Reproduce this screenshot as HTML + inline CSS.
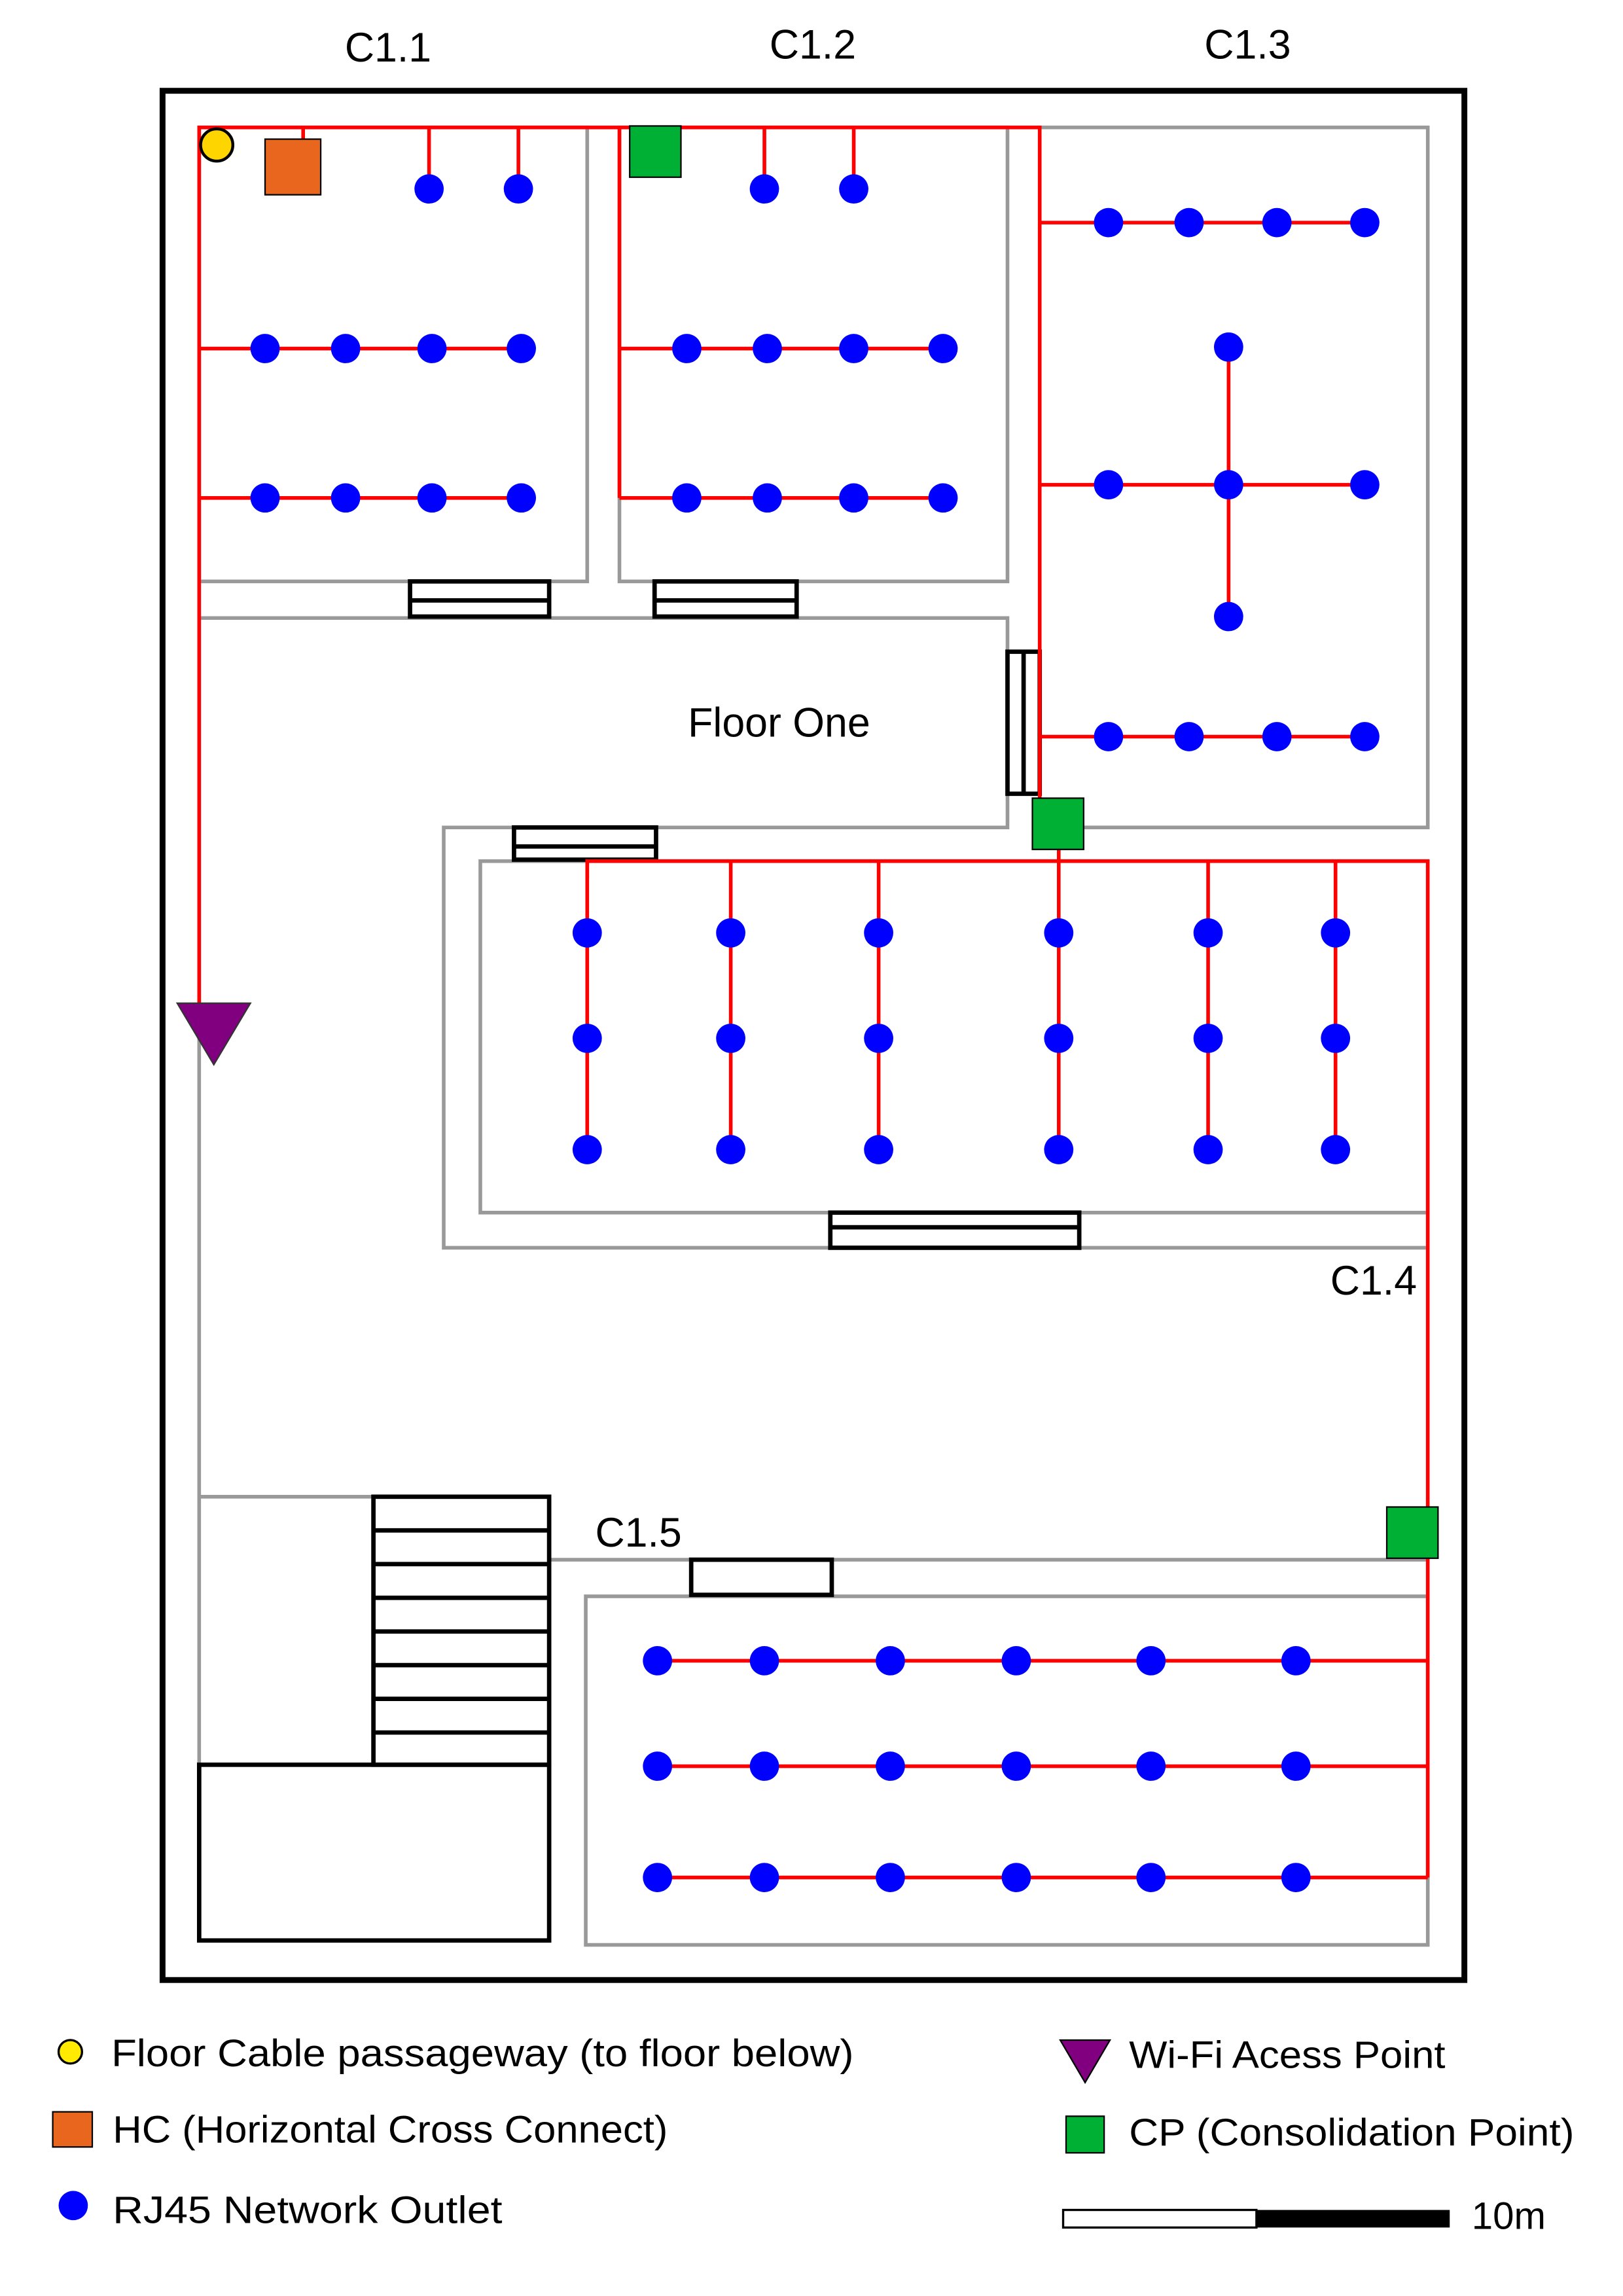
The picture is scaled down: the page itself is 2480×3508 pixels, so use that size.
<!DOCTYPE html>
<html><head><meta charset="utf-8"><style>
html,body{margin:0;padding:0;background:#fff;}
svg{display:block;}
text{font-family:"Liberation Sans",sans-serif;fill:#000;}
</style></head><body>
<svg id="plan" width="2480" height="3508" viewBox="0 0 1100 1556" xmlns="http://www.w3.org/2000/svg">
<rect width="1100" height="1556" fill="#fff"/>
<g transform="scale(0.9925)">
<g id="walls" fill="none">
<rect x="111" y="62" width="889" height="1290" stroke="#000" stroke-width="4"/>
<g stroke="#999" stroke-width="2.5">
<rect x="136" y="87" width="265" height="310"/>
<rect x="423" y="87" width="265" height="310"/>
<rect x="710" y="87" width="265" height="478"/>
<polyline points="136,422 688,422 688,565 303,565 303,852 975,852"/>
<rect x="328" y="588" width="647" height="240"/>
<line x1="136" y1="87" x2="136" y2="1205"/>
<line x1="136" y1="1022" x2="255" y2="1022"/>
<line x1="375" y1="1065" x2="975" y2="1065"/>
<rect x="400" y="1090" width="575" height="238"/>
</g>
<g stroke="#000" stroke-width="3">
<rect x="136" y="1205" width="239" height="120"/>
<rect x="255" y="1022" width="120" height="183"/>
<line x1="255" y1="1045" x2="375" y2="1045"/><line x1="255" y1="1068" x2="375" y2="1068"/>
<line x1="255" y1="1091" x2="375" y2="1091"/><line x1="255" y1="1114" x2="375" y2="1114"/>
<line x1="255" y1="1137" x2="375" y2="1137"/><line x1="255" y1="1160" x2="375" y2="1160"/>
<line x1="255" y1="1183" x2="375" y2="1183"/>
</g>
<g stroke="#000" stroke-width="3" fill="#fff">
<rect x="280" y="397" width="95" height="24"/><line x1="280" y1="410" x2="375" y2="410"/>
<rect x="447" y="397" width="97" height="24"/><line x1="447" y1="410" x2="544" y2="410"/>
<rect x="688" y="445" width="22" height="97"/><line x1="699" y1="445" x2="699" y2="542"/>
<rect x="351" y="565" width="97" height="22"/><line x1="351" y1="578" x2="448" y2="578"/>
<rect x="567" y="828" width="170" height="24"/><line x1="567" y1="838" x2="737" y2="838"/>
<rect x="472" y="1065" width="96" height="24"/>
</g>
</g>
<g id="cables" stroke="#f00" stroke-width="2.5" fill="none">
<polyline points="136,685 136,87 710,87 710,545"/>
<line x1="207" y1="87" x2="207" y2="97"/>
<line x1="423" y1="87" x2="423" y2="340"/>
<polyline points="401,600 401,588 975,588 975,1282"/>
<line x1="723" y1="580" x2="723" y2="588"/>
</g>
<g id="outlets"></g>
<g id="symbols">
<circle cx="148" cy="99" r="11" fill="#ffd500" stroke="#000" stroke-width="2"/>
<rect x="181" y="95" width="38" height="38" fill="#e8661e" stroke="#000" stroke-width="1"/>
<rect x="430" y="86" width="35" height="35" fill="#00b035" stroke="#000" stroke-width="1"/>
<rect x="705" y="545" width="35" height="35" fill="#00b035" stroke="#000" stroke-width="1"/>
<rect x="947" y="1029" width="35" height="35" fill="#00b035" stroke="#000" stroke-width="1"/>
<polygon points="121,685 171,685 146,727" fill="#800080" stroke="#333" stroke-width="1"/>
</g>
<g font-size="28" text-anchor="middle">
<text x="265" y="42">C1.1</text>
<text x="555" y="40">C1.2</text>
<text x="852" y="40">C1.3</text>
<text x="532" y="503">Floor One</text>
<text x="938" y="884">C1.4</text>
<text x="436" y="1056">C1.5</text>
</g>
<g id="legend" font-size="26">
<circle cx="48" cy="1401" r="8" fill="#ffea00" stroke="#000" stroke-width="1.5"/>
<text x="76" y="1411" textLength="507" lengthAdjust="spacingAndGlyphs">Floor Cable passageway (to floor below)</text>
<rect x="36" y="1442" width="27" height="24" fill="#e8661e" stroke="#000" stroke-width="1"/>
<text x="77" y="1463" textLength="379" lengthAdjust="spacingAndGlyphs">HC (Horizontal Cross Connect)</text>
<circle cx="50" cy="1506" r="10" fill="#0000ff"/>
<text x="77" y="1518" textLength="266" lengthAdjust="spacingAndGlyphs">RJ45 Network Outlet</text>
<polygon points="724,1393 758,1393 741,1422" fill="#800080" stroke="#000" stroke-width="1"/>
<text x="771" y="1412" textLength="216" lengthAdjust="spacingAndGlyphs">Wi-Fi Acess Point</text>
<rect x="728" y="1445" width="26" height="25" fill="#00b035" stroke="#000" stroke-width="1"/>
<text x="771" y="1465" textLength="304" lengthAdjust="spacingAndGlyphs">CP (Consolidation Point)</text>
<rect x="726" y="1509" width="132" height="12" fill="#fff" stroke="#000" stroke-width="1.5"/>
<rect x="858" y="1509" width="132" height="12" fill="#000"/>
<text x="1005" y="1522">10m</text>
</g>
</g>
</svg>
<script>
const c11Cols = [181, 236, 295, 356];
const c11Rows = [238, 340];
const c11Drops = [293, 354];
const c12Cols = [469, 524, 583, 644];
const c12Rows = [238, 340];
const c12Drops = [522, 583];
const c13RowA = [757, 812, 872, 932];
const c13RowMid = [757, 839, 932];
const c13Vert = [237, 421];
const c14Cols = [401, 499, 600, 723, 825, 912];
const c14Rows = [637, 709, 785];
const c15Cols = [449, 522, 608, 694, 786, 885];
const c15Rows = [1134, 1206, 1282];

const NS = "http://www.w3.org/2000/svg";
const cab = document.getElementById('cables');
const out = document.getElementById('outlets');
function line(x1,y1,x2,y2){
  const l=document.createElementNS(NS,'line');
  l.setAttribute('x1',x1);l.setAttribute('y1',y1);l.setAttribute('x2',x2);l.setAttribute('y2',y2);
  
  
  cab.appendChild(l);
}
function dot(x,y){
  const c=document.createElementNS(NS,'circle');
  c.setAttribute('cx',x);c.setAttribute('cy',y);c.setAttribute('r',10);c.setAttribute('fill','#0000ff');
  
  
  out.appendChild(c);
}
c11Drops.forEach(x=>{line(x,87,x,129);dot(x,129);});
c11Rows.forEach(y=>{line(136,y,c11Cols[c11Cols.length-1],y);c11Cols.forEach(x=>dot(x,y));});
c12Drops.forEach(x=>{line(x,87,x,129);dot(x,129);});
c12Rows.forEach(y=>{line(423,y,c12Cols[c12Cols.length-1],y);c12Cols.forEach(x=>dot(x,y));});
[152,503].forEach(y=>{line(710,y,c13RowA[c13RowA.length-1],y);c13RowA.forEach(x=>dot(x,y));});
line(710,331,c13RowMid[c13RowMid.length-1],331);c13RowMid.forEach(x=>dot(x,331));
line(839,c13Vert[0],839,c13Vert[1]);c13Vert.forEach(y=>dot(839,y));
c14Cols.forEach(x=>{line(x,588,x,c14Rows[c14Rows.length-1]);c14Rows.forEach(y=>dot(x,y));});
c15Rows.forEach(y=>{line(c15Cols[0],y,975,y);c15Cols.forEach(x=>dot(x,y));});
</script>
</body></html>
